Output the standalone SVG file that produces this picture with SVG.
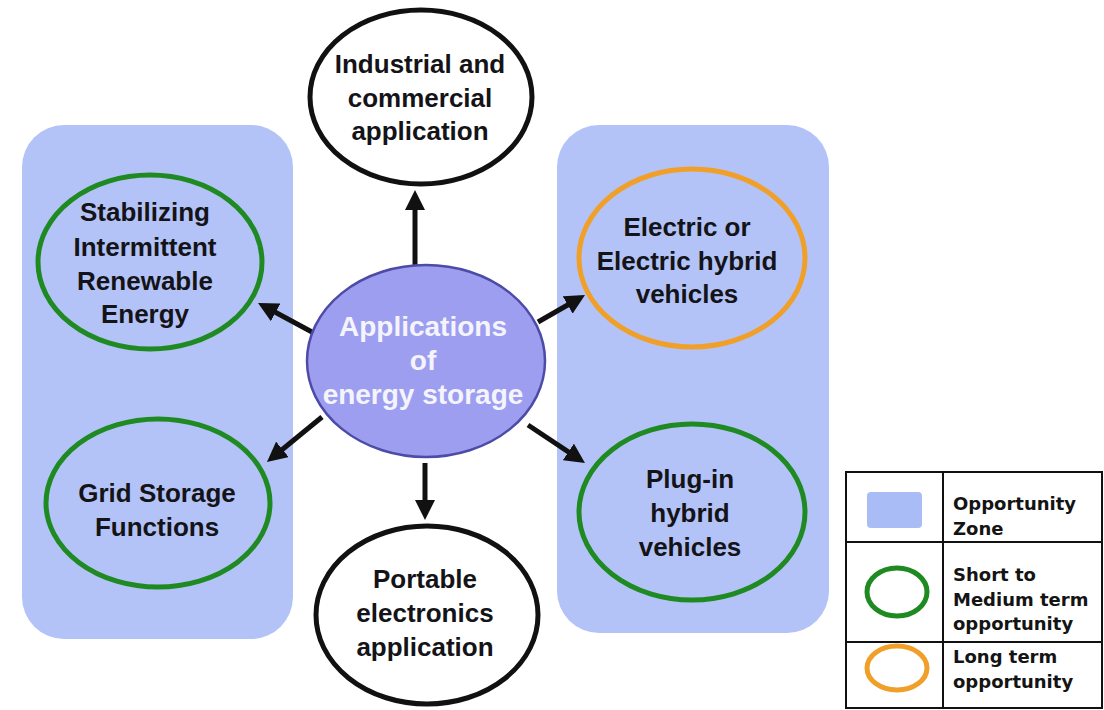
<svg xmlns="http://www.w3.org/2000/svg" width="1104" height="710" viewBox="0 0 1104 710">
<defs>
<marker id="ah" viewBox="0 0 10 10" refX="7" refY="5" markerWidth="4" markerHeight="4" orient="auto" markerUnits="strokeWidth">
<path d="M0,0 L10,5 L0,10 Z" fill="#111"/>
</marker>
<style>
.zone{fill:#b3c3f7;}
.node{fill:none;stroke-width:5;}
.green{stroke:#1f8a22;}
.orange{stroke:#f0a028;}
.black{stroke:#111;fill:#fff;stroke-width:5;}
.t{font-family:"Liberation Sans",Arial,sans-serif;font-weight:bold;font-size:26px;fill:#141418;text-anchor:middle;}
.w{font-family:"Liberation Sans",Arial,sans-serif;font-weight:bold;font-size:28px;fill:#f4f4fc;text-anchor:middle;}
.lg{font-family:"DejaVu Sans",sans-serif;font-weight:bold;font-size:18px;fill:#141414;}
.conn{stroke:#111;stroke-width:5;fill:none;marker-end:url(#ah);}
</style>
</defs>
<rect width="1104" height="710" fill="#fff"/>
<rect class="zone" x="22" y="125" width="271" height="514" rx="42"/>
<rect class="zone" x="557" y="125" width="272" height="508" rx="42"/>

<g id="connectors">
<line class="conn" x1="415" y1="266" x2="415" y2="196"/>
<line class="conn" x1="312" y1="332" x2="263.3" y2="305.8"/>
<line class="conn" x1="322" y1="417" x2="271.6" y2="458.2"/>
<line class="conn" x1="538" y1="322" x2="579.8" y2="298"/>
<line class="conn" x1="528" y1="425" x2="580" y2="459.7"/>
<line class="conn" x1="425" y1="463" x2="425" y2="514"/>
</g>

<g id="center">
<ellipse cx="426" cy="361" rx="119" ry="96" fill="#9e9ef0" stroke="#4c4ca8" stroke-width="2.5"/>
<text class="w" x="423" y="336">Applications</text>
<text class="w" x="423" y="370">of</text>
<text class="w" x="423" y="404">energy storage</text>
</g>

<g id="industrial">
<ellipse class="black" cx="421" cy="97" rx="111" ry="87"/>
<text class="t" x="420" y="73">Industrial and</text>
<text class="t" x="420" y="107">commercial</text>
<text class="t" x="420" y="140">application</text>
</g>

<g id="portable">
<ellipse class="black" cx="427" cy="615" rx="111" ry="89"/>
<text class="t" x="425" y="588">Portable</text>
<text class="t" x="425" y="622">electronics</text>
<text class="t" x="425" y="656">application</text>
</g>

<g id="stabilizing">
<ellipse class="node green" cx="150" cy="262" rx="112" ry="87"/>
<text class="t" x="145" y="221">Stabilizing</text>
<text class="t" x="145" y="256">Intermittent</text>
<text class="t" x="145" y="290">Renewable</text>
<text class="t" x="145" y="323">Energy</text>
</g>

<g id="grid">
<ellipse class="node green" cx="158" cy="503" rx="112" ry="84"/>
<text class="t" x="157" y="502">Grid Storage</text>
<text class="t" x="157" y="536">Functions</text>
</g>

<g id="electric">
<ellipse class="node orange" cx="692" cy="258" rx="113" ry="89"/>
<text class="t" x="687" y="236">Electric or</text>
<text class="t" x="687" y="270">Electric hybrid</text>
<text class="t" x="687" y="303">vehicles</text>
</g>

<g id="plugin">
<ellipse class="node green" cx="692" cy="512" rx="113" ry="88"/>
<text class="t" x="690" y="488">Plug-in</text>
<text class="t" x="690" y="522">hybrid</text>
<text class="t" x="690" y="556">vehicles</text>
</g>

<g id="legend">
<rect x="846" y="472" width="256" height="236" fill="#fff" stroke="#111" stroke-width="2"/>
<line x1="943" y1="472" x2="943" y2="708" stroke="#111" stroke-width="2"/>
<line x1="846" y1="542" x2="1102" y2="542" stroke="#111" stroke-width="2"/>
<line x1="846" y1="642" x2="1102" y2="642" stroke="#111" stroke-width="2"/>
<rect x="867" y="492" width="55" height="36" rx="4" fill="#aabcf5"/>
<ellipse cx="897" cy="592" rx="30" ry="24" fill="none" stroke="#1f8a22" stroke-width="5"/>
<ellipse cx="897" cy="668" rx="30" ry="22" fill="none" stroke="#f0a028" stroke-width="5"/>
<text class="lg" x="953" y="510">Opportunity</text>
<text class="lg" x="953" y="535">Zone</text>
<text class="lg" x="953" y="581">Short to</text>
<text class="lg" x="953" y="606">Medium term</text>
<text class="lg" x="953" y="630">opportunity</text>
<text class="lg" x="953" y="663">Long term</text>
<text class="lg" x="953" y="688">opportunity</text>
</g>
</svg>
